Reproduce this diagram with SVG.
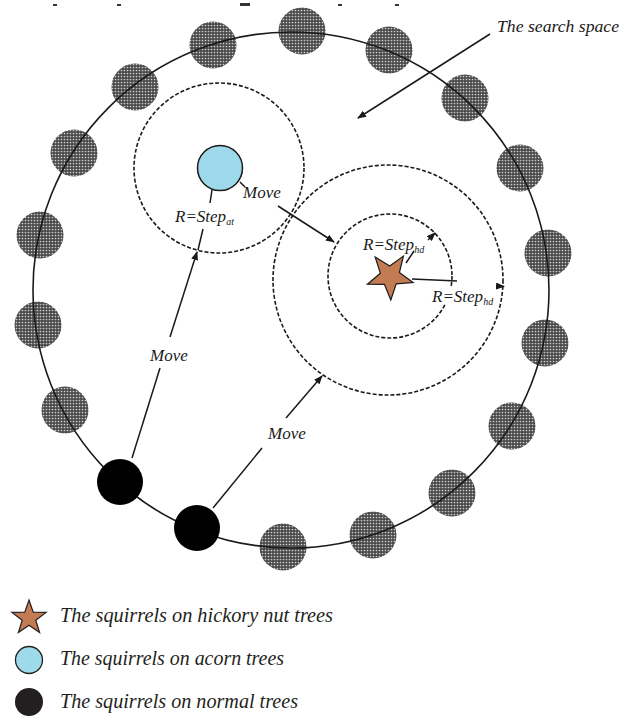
<svg xmlns="http://www.w3.org/2000/svg" width="632" height="716" viewBox="0 0 632 716">
<style>
.lbl{font-family:"Liberation Serif","Times New Roman",serif;font-style:italic;fill:#1a1a1a}
.leg{font-family:"Liberation Serif","Times New Roman",serif;font-style:italic;font-size:20px;fill:#231f20}
.tree{fill:url(#dots)}
.dash{fill:none;stroke:#1a1a1a;stroke-width:1.6;stroke-dasharray:4 2}
.ln{fill:none;stroke:#1a1a1a;stroke-width:1.5}
.arr{fill:none;stroke:#1a1a1a;stroke-width:1.5;marker-end:url(#ah)}
</style>
<defs>
<pattern id="dots" width="3" height="3" patternUnits="userSpaceOnUse">
<rect width="3" height="3" fill="#4a4a4a"/>
<circle cx="1.5" cy="1.5" r="0.85" fill="#cfcfcf"/>
</pattern>
<marker id="ah" markerWidth="9" markerHeight="7" refX="8" refY="3.5" orient="auto" markerUnits="userSpaceOnUse">
<path d="M0,0 L9,3.5 L0,7 z" fill="#1a1a1a"/>
</marker>
</defs>
<rect width="632" height="716" fill="#ffffff"/>
<g id="top-marks" fill="#333">
<rect x="53" y="4" width="4" height="2"/>
<rect x="117" y="4" width="4" height="2"/>
<rect x="240" y="3" width="10" height="3"/>
<rect x="338" y="4" width="4" height="2"/>
<rect x="395" y="4" width="4" height="2"/>
</g>
<g id="trees">
<circle class="tree" cx="213" cy="45" r="23.5"/>
<circle class="tree" cx="302" cy="31" r="23.5"/>
<circle class="tree" cx="389" cy="50" r="23.5"/>
<circle class="tree" cx="465" cy="98" r="23.5"/>
<circle class="tree" cx="520" cy="168" r="23.5"/>
<circle class="tree" cx="548" cy="253" r="23.5"/>
<circle class="tree" cx="545" cy="343" r="23.5"/>
<circle class="tree" cx="512" cy="426" r="23.5"/>
<circle class="tree" cx="452" cy="493" r="23.5"/>
<circle class="tree" cx="373" cy="535" r="23.5"/>
<circle class="tree" cx="283" cy="547" r="23.5"/>
<circle class="tree" cx="65" cy="410" r="23.5"/>
<circle class="tree" cx="38" cy="325" r="23.5"/>
<circle class="tree" cx="40" cy="235" r="23.5"/>
<circle class="tree" cx="74" cy="153" r="23.5"/>
<circle class="tree" cx="135" cy="87" r="23.5"/>
</g>
<g id="search-space">
<circle cx="291" cy="290" r="258" fill="none" stroke="#1a1a1a" stroke-width="1.6"/>
<text class="lbl" x="497" y="32" font-size="17" textLength="122" lengthAdjust="spacingAndGlyphs">The search space</text>
</g>
<g id="acorn-region">
<circle class="dash" cx="219" cy="168" r="85"/>
</g>
<g id="hickory-regions">
<circle class="dash" cx="388" cy="280" r="115"/>
<circle class="dash" cx="390" cy="276" r="62"/>
</g>
<g id="normal-squirrels">
<circle cx="120" cy="482" r="23" fill="#000"/>
<circle cx="197" cy="528" r="23" fill="#000"/>
</g>
<g id="acorn-squirrel">
<circle cx="220" cy="168" r="22.5" fill="#9dd9ea" stroke="#1a1a1a" stroke-width="1.5"/>
</g>
<g id="hickory-squirrel">
<polygon fill="#c27b52" stroke="#1a1a1a" stroke-width="1.2" points="375.2,257.1 389.7,266 403.4,256.1 399.4,272.6 413.1,282.6 396.2,283.9 390.8,300 384.4,284.3 367.4,284.2 380.4,273.2"/>
</g>
<g id="connectors">
<line class="arr" x1="490" y1="34" x2="358" y2="118"/>
<line class="ln" x1="240" y1="182" x2="245" y2="187"/>
<line class="arr" x1="278" y1="206" x2="334" y2="242"/>
<line class="ln" x1="212" y1="190" x2="210" y2="203"/>
<line class="ln" x1="203" y1="229" x2="198" y2="250"/>
<line class="ln" x1="132" y1="458" x2="160" y2="368"/>
<line class="arr" x1="170" y1="337" x2="197" y2="252"/>
<line class="ln" x1="213" y1="508" x2="262" y2="448"/>
<line class="arr" x1="286" y1="418" x2="322" y2="376"/>
<line class="ln" x1="406" y1="263" x2="414" y2="251"/>
<line class="arr" x1="428" y1="240" x2="435" y2="233"/>
<line class="ln" x1="412" y1="279" x2="457" y2="281"/>
<line class="arr" x1="496" y1="286" x2="504" y2="286.5"/>
</g>
<g id="labels">
<text class="lbl" x="243" y="198" font-size="17">Move</text>
<text class="lbl" x="150" y="361" font-size="17">Move</text>
<text class="lbl" x="268" y="439" font-size="17">Move</text>
<text class="lbl" x="175" y="222" font-size="17">R=Step<tspan font-size="10" dy="3">at</tspan></text>
<text class="lbl" x="363" y="250" font-size="17">R=Step<tspan font-size="10" dy="3">hd</tspan></text>
<rect x="431" y="287" width="62" height="17" fill="#ffffff"/>
<text class="lbl" x="432" y="302" font-size="17">R=Step<tspan font-size="10" dy="3">hd</tspan></text>
</g>
<g id="legend">
<g id="legend-hickory">
<polygon fill="#c27b52" stroke="#231f20" stroke-width="1.2" points="29,600 33.2,612.2 46.1,612.4 35.8,620.2 39.6,632.6 29,625.2 18.4,632.6 22.2,620.2 11.9,612.4 24.8,612.2"/>
<text class="leg" x="60" y="622" textLength="273" lengthAdjust="spacingAndGlyphs">The squirrels on hickory nut trees</text>
</g>
<g id="legend-acorn">
<circle cx="29" cy="660" r="13.5" fill="#9ddbeb" stroke="#231f20" stroke-width="1.3"/>
<text class="leg" x="60" y="665" textLength="224" lengthAdjust="spacingAndGlyphs">The squirrels on acorn trees</text>
</g>
<g id="legend-normal">
<circle cx="29" cy="702" r="14" fill="#231f20"/>
<text class="leg" x="60" y="708" textLength="238" lengthAdjust="spacingAndGlyphs">The squirrels on normal trees</text>
</g>
</g>
</svg>
